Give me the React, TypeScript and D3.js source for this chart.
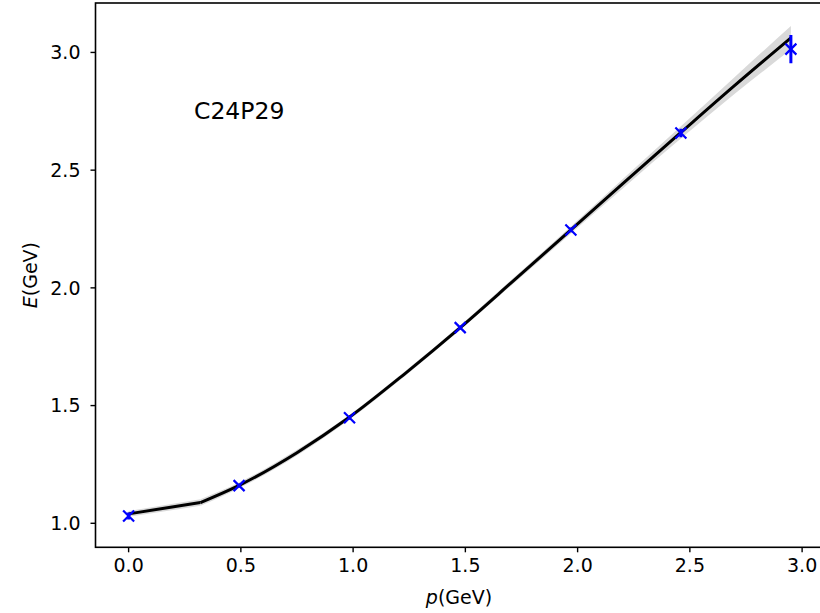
import React from "react";
import * as d3 from "d3";

// Fit curve (dispersion) and its uncertainty band
const curveP = [0, 0.32, 0.49, 0.75, 0.98, 1.23, 1.477, 1.72, 1.97, 2.21, 2.46, 2.7, 2.95];
const curveE = [1.04, 1.088, 1.16, 1.3, 1.448, 1.635, 1.831, 2.035, 2.246, 2.45, 2.66, 2.86, 3.062];
const curveErr = [0.012, 0.014, 0.012, 0.012, 0.01, 0.01, 0.01, 0.012, 0.015, 0.02, 0.026, 0.036, 0.05];

// Data points with error bars
const pointP = [0, 0.492, 0.984, 1.477, 1.97, 2.46, 2.95];
const pointE = [1.031, 1.16, 1.448, 1.831, 2.246, 2.658, 3.014];
const pointErr = [0.015, 0.008, 0.008, 0.008, 0.01, 0.018, 0.06];

const xTicks = [0.0, 0.5, 1.0, 1.5, 2.0, 2.5, 3.0];
const yTicks = [1.0, 1.5, 2.0, 2.5, 3.0];
const label = "C24P29";

const W = 820;
const H = 613;
const left = 95.5;
const right = 824;
const top = 3;
const bottom = 547.3;

export default function App() {
  const x = d3.scaleLinear().domain([-0.1475, 3.0975]).range([left, right]);
  const y = d3.scaleLinear().domain([0.898, 3.21]).range([bottom, top]);

  const curve = curveP.map((p, i) => ({ p, e: curveE[i], s: curveErr[i] }));
  const head = curve.slice(0, 2);
  const tail = curve.slice(1);
  const lineLin = d3
    .line<{ p: number; e: number }>()
    .x((d) => x(d.p))
    .y((d) => y(d.e));
  const lineSmooth = d3
    .line<{ p: number; e: number }>()
    .x((d) => x(d.p))
    .y((d) => y(d.e))
    .curve(d3.curveMonotoneX);
  const areaLin = d3
    .area<{ p: number; e: number; s: number }>()
    .x((d) => x(d.p))
    .y0((d) => y(d.e - d.s))
    .y1((d) => y(d.e + d.s));
  const areaSmooth = d3
    .area<{ p: number; e: number; s: number }>()
    .x((d) => x(d.p))
    .y0((d) => y(d.e - d.s))
    .y1((d) => y(d.e + d.s))
    .curve(d3.curveMonotoneX);

  const font = "'DejaVu Sans', sans-serif";
  const ms = 5.5;

  return (
    <svg
      width={W}
      height={H}
      style={{ position: "absolute", left: 0, top: 0, background: "#fff" }}
      fontFamily={font}
    >
      <defs>
        <clipPath id="plot">
          <rect x={left} y={top} width={right - left} height={bottom - top} />
        </clipPath>
      </defs>
      <g clipPath="url(#plot)">
        <path d={areaLin(head) || ""} fill="#d9d9d9" stroke="none" />
        <path d={areaSmooth(tail) || ""} fill="#d9d9d9" stroke="none" />
        <path d={lineLin(head) || ""} fill="none" stroke="#000" strokeWidth={3} strokeLinejoin="round" />
        <path d={lineSmooth(tail) || ""} fill="none" stroke="#000" strokeWidth={3} strokeLinejoin="round" />
        {pointP.map((p, i) => (
          <g key={i}>
            <line
              x1={x(p)}
              x2={x(p)}
              y1={y(pointE[i] - pointErr[i])}
              y2={y(pointE[i] + pointErr[i])}
              stroke="#0000ff"
              strokeWidth={3}
            />
            <path
              d={`M${x(p) - ms},${y(pointE[i]) - ms}L${x(p) + ms},${y(pointE[i]) + ms}M${x(p) - ms},${y(pointE[i]) + ms}L${x(p) + ms},${y(pointE[i]) - ms}`}
              stroke="#0000ff"
              strokeWidth={2.2}
              fill="none"
            />
          </g>
        ))}
      </g>
      {/* spines */}
      <rect
        x={left}
        y={top}
        width={right - left}
        height={bottom - top}
        fill="none"
        stroke="#000"
        strokeWidth={1.6}
      />
      {/* x ticks */}
      {xTicks.map((t) => (
        <g key={"x" + t}>
          <line x1={x(t)} x2={x(t)} y1={bottom} y2={bottom + 5} stroke="#000" strokeWidth={1.4} />
          <text x={x(t)} y={bottom + 25} textAnchor="middle" fontSize={19} fill="#000">
            {t.toFixed(1)}
          </text>
        </g>
      ))}
      {/* y ticks */}
      {yTicks.map((t) => (
        <g key={"y" + t}>
          <line x1={left - 5} x2={left} y1={y(t)} y2={y(t)} stroke="#000" strokeWidth={1.4} />
          <text x={left - 15} y={y(t)} dy="0.36em" textAnchor="end" fontSize={19} fill="#000">
            {t.toFixed(1)}
          </text>
        </g>
      ))}
      <text x={459} y={604} textAnchor="middle" fontSize={19} fill="#000">
        <tspan fontStyle="italic">p</tspan>(GeV)
      </text>
      <text
        transform={`translate(37,${(top + bottom) / 2}) rotate(-90)`}
        textAnchor="middle"
        fontSize={19}
        fill="#000"
      >
        <tspan fontStyle="italic">E</tspan>(GeV)
      </text>
      <text x={194} y={119} fontSize={23.5} fill="#000">
        {label}
      </text>
    </svg>
  );
}
